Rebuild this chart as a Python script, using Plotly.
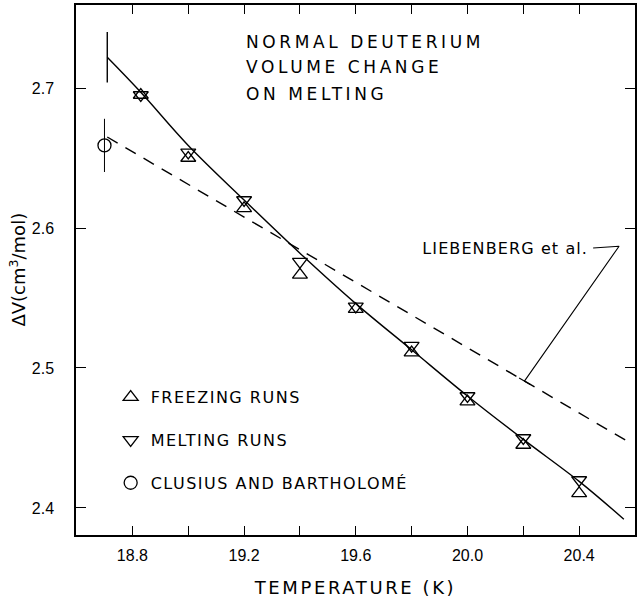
import plotly.graph_objects as go

# ---------------- data ----------------
temps = [18.83, 19.0, 19.2, 19.4, 19.6, 19.8, 20.0, 20.2, 20.4]
freezing_dv = [2.695, 2.650, 2.614, 2.5665, 2.542, 2.511, 2.476, 2.445, 2.4105]
melting_dv = [2.695, 2.654, 2.620, 2.5760, 2.544, 2.516, 2.480, 2.450, 2.4200]

fit_t = [18.71, 18.83, 19.0, 19.2, 19.4, 19.6, 19.8, 20.0, 20.2, 20.4, 20.56]
fit_dv = [2.722, 2.697, 2.659, 2.620, 2.582, 2.546, 2.513, 2.480, 2.449, 2.419, 2.392]
fit_start_err = 0.018

clusius_t = [18.70]
clusius_dv = [2.659]
clusius_err = [0.019]

lieb_t = [18.71, 20.57]
lieb_dv = [2.665, 2.448]

pointer_t = [20.45, 20.543, 20.204]
pointer_dv = [2.5857, 2.587, 2.4906]
pointer_bar_t = [20.185, 20.225]
pointer_bar_dv = [2.4929, 2.4882]

y_ticks = [2.4, 2.5, 2.6, 2.7]

title_lines = ["NORMAL DEUTERIUM", "VOLUME CHANGE", "ON MELTING"]
FONT = "DejaVu Sans"
TICKFONT = "Liberation Sans"
K = "black"

fig = go.Figure()

# fitted curve through the measurements
fig.add_trace(go.Scatter(x=fit_t, y=fit_dv, mode="lines", line=dict(color=K, width=1.4, shape="spline"),
                         showlegend=False, hoverinfo="skip"))
# uncertainty bar at start of curve
fig.add_trace(go.Scatter(x=fit_t[:1], y=fit_dv[:1], mode="markers",
                         marker=dict(size=1, color="rgba(0,0,0,0)"),
                         error_y=dict(type="data", array=[fit_start_err], color=K, thickness=1.4, width=0),
                         showlegend=False, hoverinfo="skip"))
# Liebenberg et al. dashed line
fig.add_trace(go.Scatter(x=lieb_t, y=lieb_dv, mode="lines", line=dict(color=K, width=1.4, dash="12px,9px"),
                         showlegend=False, hoverinfo="skip"))
# pointer for Liebenberg label
fig.add_trace(go.Scatter(x=pointer_t, y=pointer_dv, mode="lines", line=dict(color=K, width=1.1),
                         showlegend=False, hoverinfo="skip"))
fig.add_trace(go.Scatter(x=pointer_bar_t, y=pointer_bar_dv, mode="lines", line=dict(color=K, width=1.1),
                         showlegend=False, hoverinfo="skip"))

# data points
fig.add_trace(go.Scatter(x=temps, y=freezing_dv, mode="markers", name="FREEZING RUNS", legendgroup="a",
                         marker=dict(symbol="triangle-up-open", size=13, color=K, line=dict(width=1.3, color=K))))
fig.add_trace(go.Scatter(x=temps, y=melting_dv, mode="markers", name="MELTING RUNS", legendgroup="b",
                         marker=dict(symbol="triangle-down-open", size=13, color=K, line=dict(width=1.3, color=K))))
fig.add_trace(go.Scatter(x=clusius_t, y=clusius_dv, mode="markers", name="CLUSIUS AND BARTHOLOMÉ", legendgroup="c",
                         marker=dict(symbol="circle-open", size=13, color=K, line=dict(width=1.3, color=K)),
                         error_y=dict(type="data", array=clusius_err, color=K, thickness=1.0, width=0)))

# title block
title_y = [2.7329, 2.7150, 2.6957]
for txt, yy in zip(title_lines, title_y):
    fig.add_annotation(x=19.2, y=yy, text=txt, showarrow=False, xanchor="left", yanchor="middle",
                       align="left", font=dict(family=FONT, size=17, color=K))

fig.add_annotation(x=20.44, y=2.5857, text="LIEBENBERG et al.", showarrow=False, xanchor="right",
                   yanchor="middle", align="right", font=dict(family=FONT, size=16, color=K))

# y-axis title
fig.add_annotation(xref="paper", yref="paper", x=-0.1045, y=0.5, text="ΔV(cm<sup>3</sup>/mol)",
                   textangle=-90, showarrow=False, xanchor="center", yanchor="middle",
                   font=dict(family=FONT, size=18, color=K))

axis_common = dict(showline=True, linecolor=K, linewidth=1.5, mirror="ticks", ticks="inside",
                   tickcolor=K, tickwidth=1.3, showgrid=False, zeroline=False,
                   tickfont=dict(family=TICKFONT, size=16, color=K))

fig.update_xaxes(range=[18.598, 20.600], tick0=18.8, dtick=0.4, ticklen=9, tickformat=".1f",
                 minor=dict(dtick=0.2, tick0=18.8, ticks="inside", ticklen=9, tickwidth=1.3, tickcolor=K,
                            showgrid=False),
                 ticklabelstandoff=5,
                 title=dict(text="TEMPERATURE (K)", font=dict(family=FONT, size=18, color=K), standoff=18),
                 **axis_common)
fig.update_yaxes(range=[2.3807, 2.7593], tickvals=y_ticks, tickformat=".1f", ticklen=10,
                 ticklabelstandoff=17, **axis_common)

fig.update_layout(
    width=640, height=604,
    margin=dict(l=76, r=3, t=5, b=69),
    paper_bgcolor="white", plot_bgcolor="white",
    showlegend=True,
    legend=dict(x=0.062, y=0.292, xanchor="left", yanchor="top", bgcolor="rgba(0,0,0,0)",
                entrywidth=320, entrywidthmode="pixels",
                font=dict(family=FONT, size=16, color=K), tracegroupgap=19, traceorder="grouped"),
)

# widen the hand-lettered labels (letter spacing of the lettering guide)
post = """
var gd = document.getElementById('{plot_id}');
var spacing = {
  'NORMAL DEUTERIUM': '3.6px', 'VOLUME CHANGE': '3.6px', 'ON MELTING': '3.6px',
  'LIEBENBERG et al.': '1.1px', 'FREEZING RUNS': '1.5px', 'MELTING RUNS': '1.5px',
  'CLUSIUS AND BARTHOLOMÉ': '1.5px', 'TEMPERATURE (K)': '2.6px', 'ΔV(cm3/mol)': '1.5px'
};
gd.querySelectorAll('text').forEach(function(t) {
  var s = spacing[t.textContent];
  if (s) { t.style.letterSpacing = s; }
});
gd.querySelectorAll('.legend .scrollbox').forEach(function(e) { e.removeAttribute('clip-path'); });
"""

fig.write_html("out.html", post_script=post)
